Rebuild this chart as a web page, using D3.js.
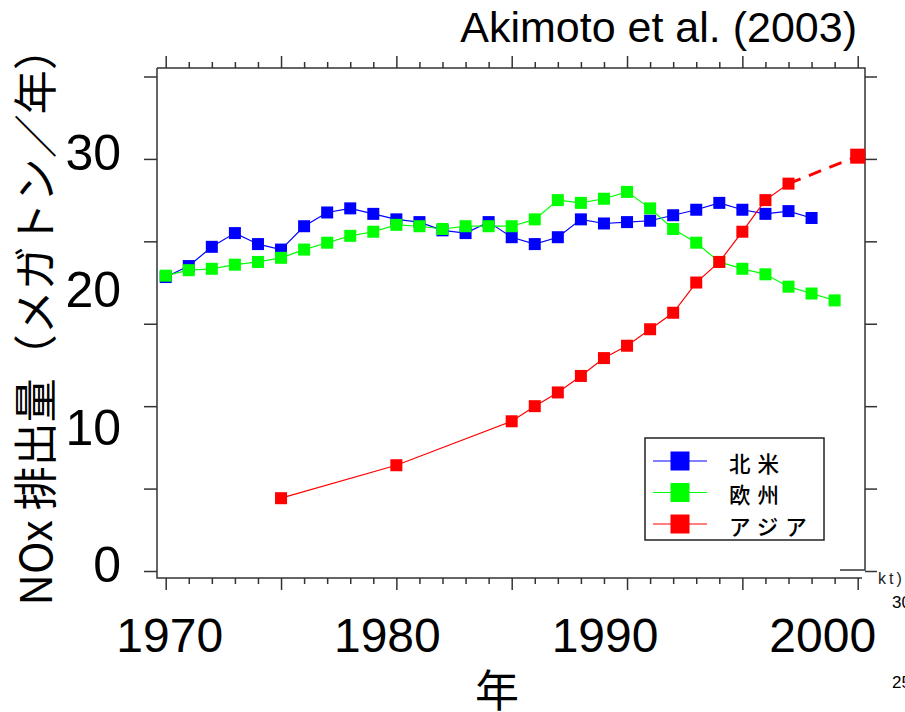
<!DOCTYPE html>
<html>
<head>
<meta charset="utf-8">
<script src="https://cdn.jsdelivr.net/npm/d3@7"></script>
<style>
  body { margin: 0; background: #fff; }
  text { font-family: "Liberation Sans", Arial, sans-serif; }
  .jp { font-family: "Noto Sans CJK JP", sans-serif; }
</style>
</head>
<body>
<div id="chart"></div>
<script>
// data (megatons NOx per year)
const naYears = d3.range(1970, 1999);
const naValues = [21.4, 22.2, 23.6, 24.6, 23.8, 23.4, 25.1, 26.1, 26.4, 26.0,
                  25.6, 25.4, 24.8, 24.6, 25.4, 24.3, 23.8, 24.3, 25.6, 25.3,
                  25.4, 25.5, 25.9, 26.3, 26.8, 26.3, 26.0, 26.2, 25.7];
const euYears = d3.range(1970, 2000);
const euValues = [21.5, 21.9, 22.0, 22.3, 22.5, 22.8, 23.4, 23.9, 24.4, 24.7,
                  25.2, 25.1, 24.9, 25.1, 25.1, 25.1, 25.6, 27.0, 26.8, 27.1,
                  27.6, 26.4, 24.9, 23.9, 22.5, 22.0, 21.6, 20.7, 20.2, 19.7];
const asYears = [1975, 1980, 1985, 1986, 1987, 1988, 1989, 1990, 1991, 1992,
                 1993, 1994, 1995, 1996, 1997];
const asValues = [5.3, 7.7, 10.9, 12.0, 13.0, 14.2, 15.5, 16.4, 17.6, 18.8,
                  21.0, 22.5, 24.7, 27.0, 28.2];
const asProjYears = [1997, 2000];
const asProjValues = [28.2, 30.2];

const seriesNames = ["北米", "欧州", "アジア"];
const seriesColors = ["#0000ff", "#00ff00", "#ff0000"];
const yLabels = [0, 10, 20, 30];
const xLabels = [1970, 1980, 1990, 2000];

const W = 905, H = 712;
const fLeft = 157, fRight = 865, fTop = 68, fBottom = 578;

let svg = d3.select("#chart").append("svg").attr("width", W).attr("height", H);

let x = d3.scaleLinear().domain([1970, 2000]).range([165.7, 857.7]);
let y = d3.scaleLinear().domain([0, 36]).range([571, 76.5]);

// frame
let frame = svg.append("g").attr("stroke", "#333").attr("stroke-width", 1.5).attr("fill", "none");
frame.append("path").attr("d", `M${fLeft},${fTop}H${fRight}V570H840`);
frame.append("path").attr("d", `M${fLeft},${fTop}V${fBottom}H862`);

// ticks: y every 6 units both sides, x every year with longer marks every 5
let yTicks = d3.range(0, 37, 6);
let minorYears = d3.range(1970, 2001);

svg.append("g").attr("transform", `translate(${fLeft},0)`)
  .call(d3.axisLeft(y).tickValues(yTicks).tickSize(13).tickFormat(""))
  .call(g => g.select(".domain").remove())
  .selectAll("line").attr("stroke", "#333").attr("stroke-width", 1.5);
svg.append("g").attr("transform", `translate(${fRight},0)`)
  .call(d3.axisRight(y).tickValues(yTicks).tickSize(12).tickFormat(""))
  .call(g => g.select(".domain").remove())
  .selectAll("line").attr("stroke", "#333").attr("stroke-width", 1.5);

[["axisBottom", fBottom], ["axisTop", fTop]].forEach(([fn, pos]) => {
  let g = svg.append("g").attr("transform", `translate(0,${pos})`)
    .call(d3[fn](x).tickValues(minorYears).tickSize(6).tickFormat(""));
  g.select(".domain").remove();
  g.selectAll("line")
    .attr("stroke", "#333").attr("stroke-width", 1.5)
    .attr("y2", d => (d % 5 === 0 ? 12 : 6) * (fn === "axisTop" ? -1 : 1));
});

// tick labels (placed as in the picture, slightly off the ticks)
svg.append("g").selectAll("text").data(yLabels).enter().append("text")
  .attr("x", 121).attr("y", d => y(d) - 6)
  .attr("text-anchor", "end").attr("dominant-baseline", "central")
  .attr("font-size", 50).text(d => d);

svg.append("g").selectAll("text").data(xLabels).enter().append("text")
  .attr("x", d => x(d) + 4 - (d - 1970) * 1.3)
  .attr("y", 652)
  .attr("text-anchor", "middle")
  .attr("font-size", 48).text(d => d);

// axis titles
svg.append("text").attr("class", "jp")
  .attr("transform", "translate(33,316) rotate(-90)")
  .attr("text-anchor", "middle").attr("dominant-baseline", "central")
  .attr("font-size", 44).text("NOx 排出量（メガトン／年）");

svg.append("text").attr("class", "jp")
  .attr("x", 497).attr("y", 688)
  .attr("text-anchor", "middle").attr("dominant-baseline", "central")
  .attr("font-size", 44).text("年");

svg.append("text")
  .attr("x", 857).attr("y", 42).attr("text-anchor", "end")
  .attr("font-size", 43).text("Akimoto et al. (2003)");

// leftover fragments of the source chart at the right edge
svg.append("text").attr("x", 878).attr("y", 584).attr("font-size", 16)
  .attr("letter-spacing", 3).attr("fill", "#222").text("kt)");
svg.append("text").attr("x", 892).attr("y", 608).attr("font-size", 17).text("30");
svg.append("text").attr("x", 892).attr("y", 688).attr("font-size", 17).text("25");

// series
let line = d3.line().x(d => x(d[0])).y(d => y(d[1]));
let zipped = (ys, vs) => ys.map((yr, i) => [yr, vs[i]]);
let series = [zipped(naYears, naValues), zipped(euYears, euValues), zipped(asYears, asValues)];

series.forEach((pts, i) => {
  let g = svg.append("g");
  g.append("path").datum(pts).attr("d", line)
    .attr("fill", "none").attr("stroke", seriesColors[i]).attr("stroke-width", 1.2);
  if (i === 2) {
    g.append("path").datum(zipped(asProjYears, asProjValues)).attr("d", line)
      .attr("fill", "none").attr("stroke", seriesColors[i])
      .attr("stroke-width", 3).attr("stroke-dasharray", "13,9");
    g.append("rect")
      .attr("x", x(asProjYears[1]) - 7.5).attr("y", y(asProjValues[1]) - 7.5)
      .attr("width", 15).attr("height", 15).attr("fill", seriesColors[i]);
  }
  g.selectAll("rect.pt").data(pts).enter().append("rect").attr("class", "pt")
    .attr("x", d => x(d[0]) - 6).attr("y", d => y(d[1]) - 6)
    .attr("width", 12).attr("height", 12).attr("fill", seriesColors[i]);
});

// legend
let lg = svg.append("g").attr("transform", "translate(645,438)");
lg.append("rect").attr("width", 179).attr("height", 102)
  .attr("fill", "#fff").attr("stroke", "#222").attr("stroke-width", 1.5);
seriesNames.forEach((name, i) => {
  let ry = 23 + i * 31.5;
  lg.append("line").attr("x1", 8).attr("x2", 62).attr("y1", ry).attr("y2", ry)
    .attr("stroke", seriesColors[i]).attr("stroke-width", 1.2);
  lg.append("rect").attr("x", 25.5).attr("y", ry - 9.5).attr("width", 19).attr("height", 19)
    .attr("fill", seriesColors[i]);
  lg.append("text").attr("class", "jp").attr("x", 84).attr("y", ry + 1)
    .attr("dominant-baseline", "central").attr("font-size", 21.5)
    .attr("font-weight", 500).attr("letter-spacing", 7).text(name);
});
</script>
</body>
</html>
